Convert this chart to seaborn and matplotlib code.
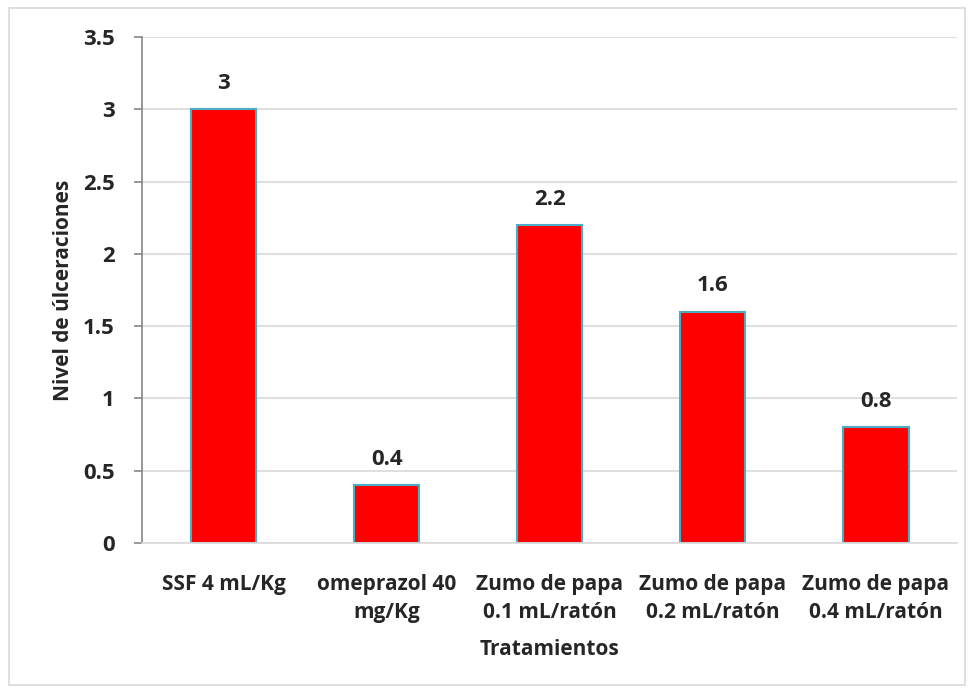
import matplotlib
matplotlib.use("Agg")
import matplotlib.pyplot as plt
import seaborn as sns
import pandas as pd
from matplotlib.patches import Rectangle

categories = ["SSF 4 mL/Kg", "omeprazol 40\nmg/Kg", "Zumo de papa\n0.1 mL/ratón",
              "Zumo de papa\n0.2 mL/ratón", "Zumo de papa\n0.4 mL/ratón"]
values = [3, 0.4, 2.2, 1.6, 0.8]
value_labels = ["3", "0.4", "2.2", "1.6", "0.8"]
yticks = [0, 0.5, 1, 1.5, 2, 2.5, 3, 3.5]
ytick_labels = ["0", "0.5", "1", "1.5", "2", "2.5", "3", "3.5"]

sns.set_theme(style="white")
plt.rcParams['font.family'] = ['Open Sans', 'DejaVu Sans']
plt.rcParams['font.weight'] = 'bold'

df = pd.DataFrame({"cat": categories, "val": values})

fig = plt.figure(figsize=(9.74, 6.93), dpi=100)
ax = fig.add_axes([0.146, 0.2165, 0.837, 0.730])

sns.barplot(data=df, x="cat", y="val", color="#ff0000", saturation=1,
            edgecolor="#4bacc6", linewidth=1.5, width=0.4, ax=ax)

ax.set_ylim(0, 3.5)
ax.set_yticks(yticks)
ax.set_yticklabels(ytick_labels, fontsize=16, fontweight='bold')
ax.yaxis.grid(True, color="#d9d9d9", linewidth=1.2)
ax.set_axisbelow(True)
for s in ["top", "right"]:
    ax.spines[s].set_visible(False)
ax.spines["left"].set_color("#868686")
ax.spines["left"].set_linewidth(1.2)
ax.spines["bottom"].set_color("#d9d9d9")
ax.spines["bottom"].set_linewidth(1.2)
ax.tick_params(axis="y", which="both", left=True, length=6, width=1.2, color="#868686",
               direction="out", pad=14)
ax.tick_params(axis="x", bottom=False, pad=16)
ax.set_xticks(range(len(categories)))
ax.set_xticklabels(categories, fontsize=15, fontweight='bold', linespacing=1.45)

ax.bar_label(ax.containers[0], labels=value_labels, padding=11, fontsize=16, fontweight='bold')

ax.set_ylabel("Nivel de úlceraciones", fontsize=15, fontweight='bold', labelpad=6)
ax.set_xlabel("Tratamientos", fontsize=15, fontweight='bold', labelpad=12)

fig.patches.append(Rectangle((0.009, 0.011), 0.982, 0.978, transform=fig.transFigure,
                             fill=False, edgecolor="#d9d9d9", linewidth=1.2))

fig.savefig("out.png", dpi=100)
